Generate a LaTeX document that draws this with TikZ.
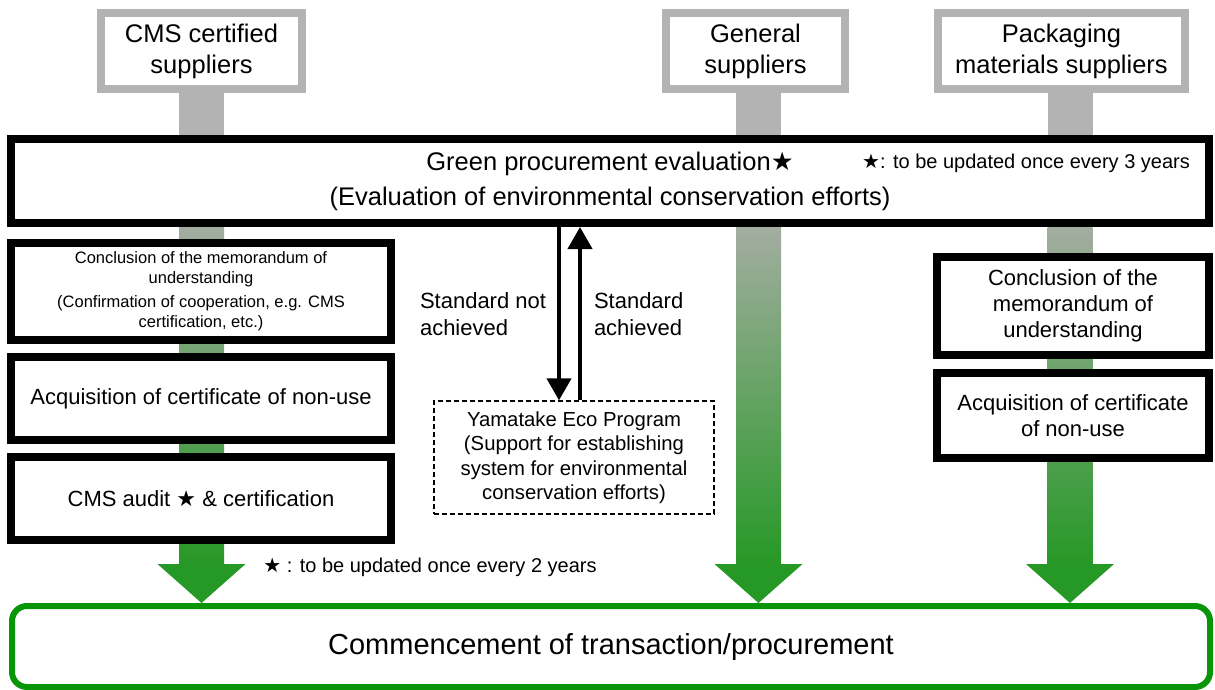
\documentclass[tikz,border=0pt]{standalone}
\usepackage{fontspec}
\setmainfont{Liberation Sans}
\newfontfamily\symfont{DejaVu Sans}
\usepackage{tikz}
\usetikzlibrary{arrows.meta,calc,positioning,backgrounds}
\definecolor{barGray}{RGB}{179,179,179}
\definecolor{barTop}{RGB}{163,173,160}
\definecolor{barGreen}{RGB}{38,152,38}
\definecolor{boxGreen}{RGB}{8,150,8}
\newcommand{\starmark}{{\symfont ★}}

\begin{document}
\begin{tikzpicture}[x=1pt, y=-1pt,
   supplier/.style={draw=barGray, line width=8pt, fill=white, align=center, inner sep=4pt, minimum height=76pt, font=\fontsize{25.5}{31}\selectfont},
   stage/.style={draw=black, line width=8pt, fill=white, align=center, inner sep=4pt, font=\fontsize{22}{26}\selectfont},
   note/.style={font=\fontsize{20}{23}\selectfont},
   flow/.style={line width=4pt, -{Triangle[length=22pt,width=24pt]}}]
   \useasboundingbox (0,0) rectangle (1215,690);
   % suppliers
   \node (cms) [supplier, minimum width=201pt] at (201.5,51) {CMS certified\\suppliers};
   \node (gen) [supplier, minimum width=179pt] at (755.5,51) {General\\suppliers};
   \node (pack) [supplier, minimum width=247pt] at (1061.5,51) {Packaging\\materials suppliers};
   % evaluation
   \node (eval) [stage, minimum width=1198pt, minimum height=84pt, font=\fontsize{25.5}{35}\selectfont] at (610,181)
     {Green procurement evaluation\starmark\\(Evaluation of environmental conservation efforts)};
   \node (evalnote) [note] at (1026,163) {\starmark: to be updated once every 3 years};
   % CMS certified column
   \begin{scope}[every node/.style={stage, minimum width=380pt}]
    \node (mou) [minimum height=97pt, font=\fontsize{16.5}{20}\selectfont] at (201,291.5)
      {Conclusion of the memorandum of\\understanding\\[4pt](Confirmation of cooperation, e.g. CMS\\certification, etc.)};
    \node (cert) [minimum height=83pt, below=9pt of mou] {Acquisition of certificate of non-use};
    \node (audit) [minimum height=83pt, below=9pt of cert] {CMS audit \starmark\ \& certification};
   \end{scope}
   % packaging column
   \begin{scope}[every node/.style={stage, minimum width=272pt}]
    \node (pmou) [minimum height=98pt] at (1073,306) {Conclusion of the\\memorandum of\\understanding};
    \node (pcert) [minimum height=85pt, below=10pt of pmou] {Acquisition of certificate\\of non-use};
   \end{scope}
   % eco program
   \node (eco) [draw, dash pattern=on 5pt off 3pt, line width=1.2pt, fill=white, minimum width=280pt, minimum height=113pt,
     align=center, font=\fontsize{20.3}{24.5}\selectfont] at (574,457.5)
     {Yamatake Eco Program\\(Support for establishing\\system for environmental\\conservation efforts)};
   \node (auditnote) [note] at (430,567) {\starmark\ : to be updated once every 2 years};
   % result
   \node (done) [draw=boxGreen, line width=6pt, rounded corners=15pt, fill=white, minimum width=1198pt, minimum height=81pt,
     font=\fontsize{29}{34}\selectfont] at (611,646.5) {Commencement of transaction/procurement};

   \draw[flow] ($(eco.north |- eval.south)+(-15,0)$) -- ($(eco.north)+(-15,0)$)
     node[midway, left, align=left, inner sep=11pt, font=\fontsize{22}{27}\selectfont] {Standard not\\achieved};
   \draw[flow] ($(eco.north)+(6,0)$) -- ($(eco.north |- eval.south)+(6,0)$)
     node[midway, right, align=left, inner sep=12pt, font=\fontsize{22}{27}\selectfont] {Standard\\achieved};

   % broad arrows behind the boxes
   \begin{scope}[on background layer]
    \coordinate (cmsbar) at (cms.south);
    \coordinate (genbar) at ($(gen.south)+(3,0)$);
    \coordinate (packbar) at ($(pack.south)+(8.5,0)$);
    \foreach \src in {cmsbar,genbar,packbar}{
      \fill[barGray] ($(\src)+(-22.5,0)$) rectangle ($(\src |- eval.south)+(22.5,0)$);
      \shade[top color=barTop, bottom color=barGreen] ($(\src |- eval.south)+(-22.5,0)$) rectangle ($(\src |- done.north)+(22.5,-38)$);
      \fill[barGreen] ($(\src |- done.north)+(-44,-39)$) -- ($(\src |- done.north)+(44,-39)$) -- (\src |- done.north) -- cycle;
    }
   \end{scope}
\end{tikzpicture}
\end{document}
